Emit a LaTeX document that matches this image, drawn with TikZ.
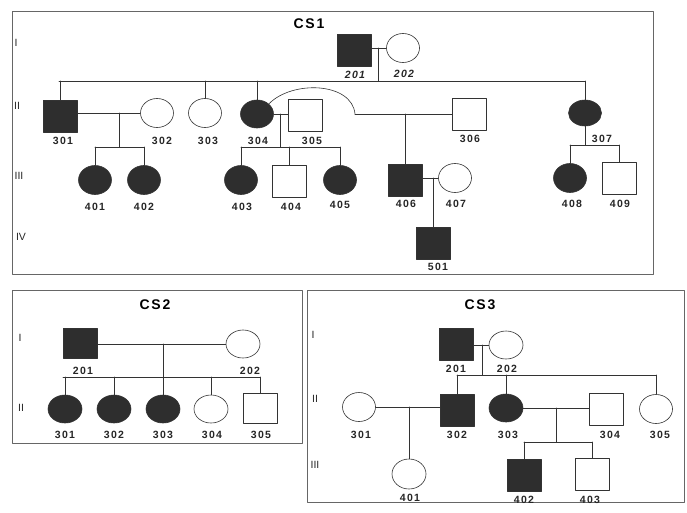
\documentclass[tikz,border=0pt]{standalone}
\usepackage{fontspec}
\setmainfont{Liberation Sans}
\newfontfamily\numfont[LetterSpace=12]{Liberation Sans}
\usetikzlibrary{shapes.geometric}

\begin{document}
\begin{tikzpicture}[x=1pt, y=-1pt, line cap=round, line join=round,
  ln/.style={draw=black!80, line width=0.6pt},
  frm/.style={draw=black!60, line width=0.7pt},
  msq/.style={rectangle, draw=black!80, line width=0.6pt, minimum width=34pt, minimum height=32pt, inner sep=0pt},
  fsq/.style={msq, fill=black!82},
  fem/.style={ellipse, draw=black!80, line width=0.6pt, minimum width=33pt, minimum height=29pt, inner sep=0pt},
  ffem/.style={fem, fill=black!82},
  num/.style={font=\numfont\fontsize{10.5}{12}\selectfont\bfseries, text=black!85, inner sep=0pt},
  numi/.style={num, font=\numfont\fontsize{10.5}{12}\selectfont\bfseries\itshape},
  gen/.style={font=\fontsize{10.5}{12}\selectfont, text=black!85, inner sep=0pt},
  ttl/.style={font=\numfont\fontsize{14}{16}\selectfont\bfseries, inner sep=0pt}]
\useasboundingbox (0,0) rectangle (687,512);

% CS1
\draw[frm] (12,11) rectangle (653,274);
\node[ttl] (t1) at (309,24) {CS1};
\node[gen] (g1a) at (16,43) {I};
\node[gen] (g1b) at (17,106) {II};
\node[gen] (g1c) at (19,176) {III};
\node[gen] (g1d) at (21,237) {IV};

\node[fsq] (a201) at (354,50) {};
\node[fem] (a202) at (403,48) {};
\node[numi] (la201) at (355,75) {201};
\node[numi] (la202) at (404,74) {202};
\draw[ln] (a201.east |- a202.west) -- (a202.west);
\coordinate (a1m) at (378,48);
\coordinate (a2l) at (59,81);
\coordinate (a2r) at (585,81);
\draw[ln] (a1m) -- (a1m |- a2l);
\draw[ln] (a2l) -- (a2r);

\node[fsq] (a301) at (60,116) {};
\node[fem] (a302) at (157,113) {};
\node[fem] (a303) at (205,113) {};
\node[ffem, minimum height=28pt] (a304) at (257,114) {};
\node[msq] (a305) at (305,115) {};
\node[msq] (a306) at (469,114) {};
\node[ffem, minimum height=26pt] (a307) at (585,113) {};
\foreach \p in {a301,a303,a304,a307}
  \draw[ln] (\p.north |- a2l) -- (\p.north);

\node[ffem] (a401) at (95,180) {};
\node[ffem] (a402) at (144,180) {};
\node[ffem] (a403) at (241,180) {};
\node[msq] (a404) at (289,181) {};
\node[ffem] (a405) at (340,180) {};
\node[fsq] (a406) at (405,180) {};
\node[fem] (a407) at (455,178) {};
\node[ffem] (a408) at (570,178) {};
\node[msq] (a409) at (619,178) {};
\node[fsq] (a501) at (433,243) {};

\draw[ln] (a301.east |- a302.west) -- (a302.west);
\coordinate (a3m1) at (119,113);
\coordinate (a3l1) at (95,147);
\coordinate (a3r1) at (144,147);
\draw[ln] (a3m1) -- (a3m1 |- a3l1);
\draw[ln] (a3l1) -- (a3r1);
\draw[ln] (a3l1) -- (a401.north);
\draw[ln] (a3r1) -- (a402.north);

\draw[ln] (a304.east) -- (a305.west |- a304.east);
\coordinate (a3m2) at (280,114);
\coordinate (a3l2) at (241,147);
\coordinate (a3r2) at (340,147);
\draw[ln] (a3m2) -- (a3m2 |- a3l2);
\draw[ln] (a3l2) -- (a3r2);
\draw[ln] (a3l2) -- (a403.north);
\draw[ln] (a404.north |- a3l2) -- (a404.north);
\draw[ln] (a3r2) -- (a405.north);

\coordinate (a3m3) at (355,114);
\draw[ln] (a304.north east) .. controls (292,80) and (352,82) .. (a3m3);
\draw[ln] (a3m3) -- (a306.west);
\draw[ln] (a406.north |- a306.west) -- (a406.north);

\draw[ln] (a406.east |- a407.west) -- (a407.west);
\draw[ln] (a501.north |- a407.west) -- (a501.north);

\coordinate (a3l3) at (570,145);
\coordinate (a3r3) at (619,145);
\draw[ln] (a307.south) -- (a307.south |- a3l3);
\draw[ln] (a3l3) -- (a3r3);
\draw[ln] (a3l3) -- (a408.north);
\draw[ln] (a3r3) -- (a409.north);

\node[num] (la301) at (63,141) {301};
\node[num] (la302) at (162,141) {302};
\node[num] (la303) at (208,141) {303};
\node[num] (la304) at (258,141) {304};
\node[num] (la305) at (312,141) {305};
\node[num] (la306) at (470,139) {306};
\node[num] (la307) at (602,139) {307};
\node[num] (la401) at (95,207) {401};
\node[num] (la402) at (144,207) {402};
\node[num] (la403) at (242,207) {403};
\node[num] (la404) at (291,207) {404};
\node[num] (la405) at (340,205) {405};
\node[num] (la406) at (406,204) {406};
\node[num] (la407) at (456,204) {407};
\node[num] (la408) at (572,204) {408};
\node[num] (la409) at (620,204) {409};
\node[num] (la501) at (438,267) {501};

% CS2
\draw[frm] (12,290) rectangle (302,443);
\node[ttl] (t2) at (155,305) {CS2};
\node[gen] (g2a) at (20,338) {I};
\node[gen] (g2b) at (21,408) {II};

\node[fsq, minimum height=30pt] (b201) at (80,343) {};
\node[fem, minimum width=34pt, minimum height=28pt] (b202) at (243,344) {};
\draw[ln] (b201.east |- b202.west) -- (b202.west);
\coordinate (b2l) at (63,377);
\coordinate (b2r) at (260,377);
\draw[ln] (b2l) -- (b2r);
\foreach \p/\x in {b301/65,b302/114,b303/163}
  \node[ffem, minimum width=34pt, minimum height=28pt] (\p) at (\x,409) {};
\node[fem, minimum width=34pt, minimum height=28pt] (b304) at (211,409) {};
\node[msq, minimum height=30pt] (b305) at (260,408) {};
\draw[ln] (b303.north |- b202.west) -- (b303.north);
\foreach \p in {b301,b302,b304,b305}
  \draw[ln] (\p.north |- b2l) -- (\p.north);

\node[num] (lb201) at (83,371) {201};
\node[num] (lb202) at (250,371) {202};
\node[num] (lb301) at (65,435) {301};
\node[num] (lb302) at (114,435) {302};
\node[num] (lb303) at (163,435) {303};
\node[num] (lb304) at (212,435) {304};
\node[num] (lb305) at (261,435) {305};

% CS3
\draw[frm] (307,290) rectangle (684,502);
\node[ttl] (t3) at (480,305) {CS3};
\node[gen] (g3a) at (313,335) {I};
\node[gen] (g3b) at (315,399) {II};
\node[gen] (g3c) at (315,465) {III};

\node[fsq] (c201) at (456,344) {};
\node[fem, minimum width=34pt, minimum height=28pt] (c202) at (506,345) {};
\draw[ln] (c201.east |- c202.west) -- (c202.west);
\coordinate (c1m) at (482,345);
\coordinate (c2l) at (457,375);
\coordinate (c2r) at (656,375);
\draw[ln] (c1m) -- (c1m |- c2l);
\draw[ln] (c2l) -- (c2r);

\node[fem] (c301) at (359,407) {};
\node[fsq] (c302) at (457,410) {};
\node[ffem, minimum width=34pt, minimum height=28pt] (c303) at (506,408) {};
\node[msq] (c304) at (606,409) {};
\node[fem, minimum height=29pt] (c305) at (656,409) {};
\draw[ln] (c2l) -- (c302.north);
\draw[ln] (c303.north |- c2l) -- (c303.north);
\draw[ln] (c2r) -- (c305.north);

\node[fem, minimum width=34pt, minimum height=30pt] (c401) at (409,474) {};
\node[fsq] (c402) at (524,475) {};
\node[msq] (c403) at (592,474) {};
\draw[ln] (c301.east) -- (c302.west |- c301.east);
\draw[ln] (c401.north |- c301.east) -- (c401.north);
\draw[ln] (c303.east) -- (c304.west |- c303.east);
\coordinate (c2m) at (556,408);
\coordinate (c3l) at (524,442);
\coordinate (c3r) at (592,442);
\draw[ln] (c2m) -- (c2m |- c3l);
\draw[ln] (c3l) -- (c3r);
\draw[ln] (c3l) -- (c402.north);
\draw[ln] (c3r) -- (c403.north);

\node[num] (lc201) at (456,369) {201};
\node[num] (lc202) at (507,369) {202};
\node[num] (lc301) at (361,435) {301};
\node[num] (lc302) at (457,435) {302};
\node[num] (lc303) at (508,435) {303};
\node[num] (lc304) at (610,435) {304};
\node[num] (lc305) at (660,435) {305};
\node[num] (lc401) at (410,498) {401};
\node[num] (lc402) at (524,500) {402};
\node[num] (lc403) at (590,500) {403};
\end{tikzpicture}
\end{document}
